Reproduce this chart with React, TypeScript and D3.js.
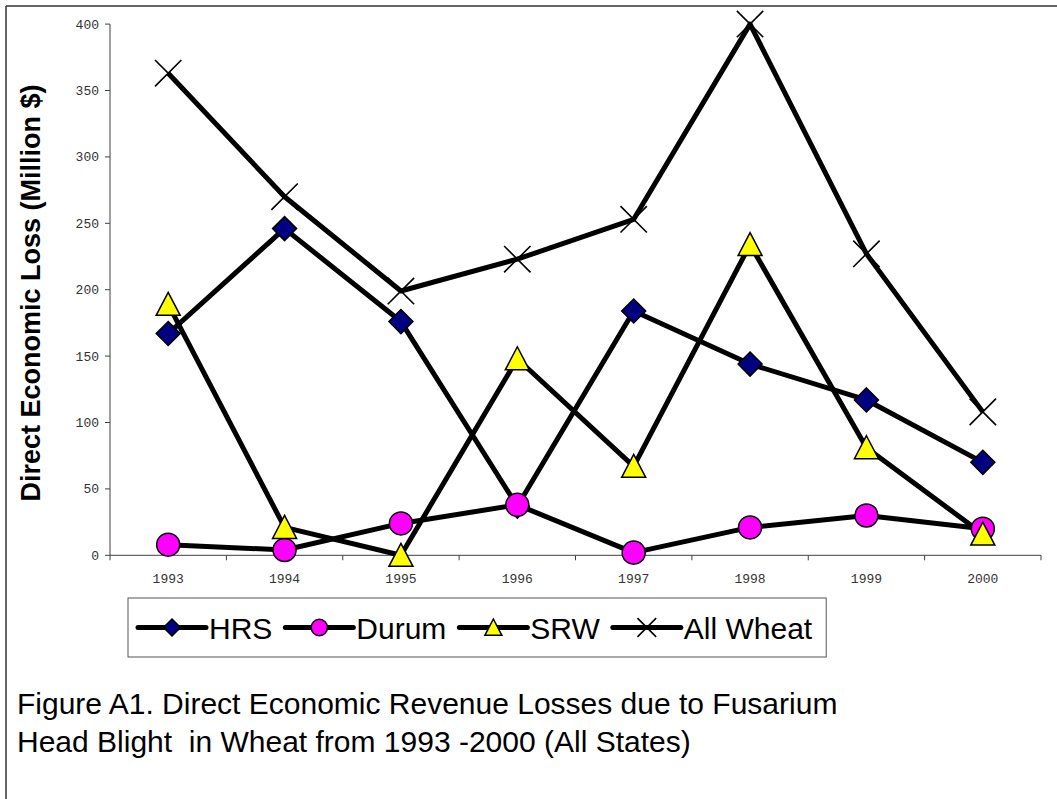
import { useLayoutEffect, useRef, useState } from "react";
import { line as d3Line, scaleBand, scaleLinear } from "d3";

const years = ["1993", "1994", "1995", "1996", "1997", "1998", "1999", "2000"];
const hrsValues = [167, 246, 176, 37, 184, 144, 117, 70];
const durumValues = [8, 4, 24, 38, 2, 21, 30, 20];
const srwValues = [189, 21, 0, 148, 67, 234, 81, 16];
const allWheatValues = [363, 270, 199, 223, 253, 400, 227, 108];
const yTickValues = [0, 50, 100, 150, 200, 250, 300, 350, 400];
const seriesNames = ["HRS", "Durum", "SRW", "All Wheat"];

const yTitle = "Direct Economic Loss (Million $)";
const captionLines = [
  "Figure A1. Direct Economic Revenue Losses due to Fusarium",
  "Head Blight  in Wheat from 1993 -2000 (All States)",
];

type MarkerKind = "diamond" | "circle" | "triangle" | "cross";

type Series = {
  name: string;
  values: number[];
  marker: MarkerKind;
  fill: string;
};

const series: Series[] = [
  { name: seriesNames[0], values: hrsValues, marker: "diamond", fill: "#000080" },
  { name: seriesNames[1], values: durumValues, marker: "circle", fill: "#ff00ff" },
  { name: seriesNames[2], values: srwValues, marker: "triangle", fill: "#ffff00" },
  { name: seriesNames[3], values: allWheatValues, marker: "cross", fill: "none" },
];

const WIDTH = 1057;
const HEIGHT = 799;
const PLOT = { left: 110, right: 1041, top: 24.1, bottom: 555.3 };
const SANS = "'Liberation Sans', Arial, sans-serif";
const MONO = "'Liberation Mono', 'Courier New', monospace";
const AXIS_COLOR = "#404040";

const Marker = ({ kind, x, y, s, fill }: { kind: MarkerKind; x: number; y: number; s: number; fill: string }) => {
  if (kind === "diamond") {
    return (
      <path
        d={`M${x},${y - s}L${x + s},${y}L${x},${y + s}L${x - s},${y}Z`}
        fill={fill}
        stroke="#000"
        strokeWidth={1.5}
      />
    );
  }
  if (kind === "circle") {
    return <circle cx={x} cy={y} r={s * 0.96} fill={fill} stroke="#000" strokeWidth={1.5} />;
  }
  if (kind === "triangle") {
    return (
      <path
        d={`M${x},${y - s}L${x + s},${y + s * 0.92}L${x - s},${y + s * 0.92}Z`}
        fill={fill}
        stroke="#000"
        strokeWidth={1.5}
      />
    );
  }
  const c = s * 1.1;
  return (
    <path
      d={`M${x - c},${y - c}L${x + c},${y + c}M${x + c},${y - c}L${x - c},${y + c}`}
      stroke="#000"
      strokeWidth={1.6}
      fill="none"
    />
  );
};

export default function App() {
  const x = scaleBand<string>().domain(years).range([PLOT.left, PLOT.right]).padding(0);
  const y = scaleLinear().domain([0, 400]).range([PLOT.bottom, PLOT.top]);
  const cx = (year: string) => (x(year) ?? 0) + x.bandwidth() / 2;

  const linePath = d3Line<number>()
    .x((_, i) => cx(years[i]))
    .y((v) => y(v));

  // legend text widths, measured after first paint
  const textRefs = useRef<(SVGTextElement | null)[]>([]);
  const [textWidths, setTextWidths] = useState<number[]>([63, 90, 70, 128]);
  useLayoutEffect(() => {
    const next = textRefs.current.map((el, i) => (el ? el.getComputedTextLength() : textWidths[i]));
    if (next.some((w, i) => Math.abs(w - textWidths[i]) > 0.5)) {
      setTextWidths(next);
    }
  }, []);

  const legendTop = 598;
  const legendBottom = 657;
  const legendMid = (legendTop + legendBottom) / 2;
  const legendGap = 13;
  const legendItems: { s: Series; x0: number; tx: number }[] = [];
  let cursor = 138;
  series.forEach((s, i) => {
    legendItems.push({ s, x0: cursor, tx: cursor + 71 });
    cursor = cursor + 71 + textWidths[i] + legendGap;
  });
  const legendRight = cursor - legendGap + 14;

  return (
    <div style={{ position: "absolute", left: 0, top: 0, width: WIDTH, height: HEIGHT, background: "#fff" }}>
      <svg width={WIDTH} height={HEIGHT} style={{ display: "block" }}>
        <rect width={WIDTH} height={HEIGHT} fill="#fff" />
        {/* outer frame: only top and left edges show */}
        <line x1={6} x2={WIDTH} y1={6} y2={6} stroke="#333" strokeWidth={1.5} />
        <line x1={6} x2={6} y1={6} y2={HEIGHT} stroke="#333" strokeWidth={1.5} />

        {/* y axis */}
        <line x1={PLOT.left} x2={PLOT.left} y1={PLOT.top} y2={PLOT.bottom} stroke={AXIS_COLOR} strokeWidth={1} />
        {yTickValues.map((t) => (
          <g key={t}>
            <line x1={PLOT.left - 5} x2={PLOT.left} y1={y(t)} y2={y(t)} stroke={AXIS_COLOR} strokeWidth={1} />
            <text
              x={PLOT.left - 11}
              y={y(t)}
              dy="0.35em"
              textAnchor="end"
              fontFamily={MONO}
              fontSize={13}
              fill="#333"
            >
              {t}
            </text>
          </g>
        ))}

        {/* x axis */}
        <line x1={PLOT.left} x2={PLOT.right} y1={PLOT.bottom} y2={PLOT.bottom} stroke={AXIS_COLOR} strokeWidth={1} />
        {years.map((yr) => (
          <line
            key={`t${yr}`}
            x1={x(yr)}
            x2={x(yr)}
            y1={PLOT.bottom}
            y2={PLOT.bottom + 5}
            stroke={AXIS_COLOR}
            strokeWidth={1}
          />
        ))}
        <line x1={PLOT.right} x2={PLOT.right} y1={PLOT.bottom} y2={PLOT.bottom + 5} stroke={AXIS_COLOR} />
        {years.map((yr) => (
          <text
            key={`l${yr}`}
            x={cx(yr)}
            y={583}
            textAnchor="middle"
            fontFamily={MONO}
            fontSize={13}
            fill="#333"
          >
            {yr}
          </text>
        ))}

        {/* y title */}
        <text
          transform={`translate(40,293) rotate(-90)`}
          textAnchor="middle"
          fontFamily={SANS}
          fontWeight="bold"
          fontSize={27}
          fill="#000"
        >
          {yTitle}
        </text>

        {/* series lines */}
        {series.map((s) => (
          <path
            key={`p${s.name}`}
            d={linePath(s.values) ?? ""}
            fill="none"
            stroke="#000"
            strokeWidth={5}
            strokeLinejoin="round"
          />
        ))}
        {/* markers */}
        {series.map((s) => (
          <g key={`m${s.name}`}>
            {s.values.map((v, i) => (
              <Marker key={i} kind={s.marker} x={cx(years[i])} y={y(v)} s={12} fill={s.fill} />
            ))}
          </g>
        ))}

        {/* legend */}
        <rect
          x={128}
          y={legendTop}
          width={legendRight - 128}
          height={legendBottom - legendTop}
          fill="#fff"
          stroke="#555"
          strokeWidth={1}
        />
        {legendItems.map(({ s, x0, tx }, i) => (
          <g key={`lg${s.name}`}>
            <line x1={x0} x2={x0 + 68} y1={legendMid} y2={legendMid} stroke="#000" strokeWidth={5} strokeLinecap="round" />
            <Marker kind={s.marker} x={x0 + 34} y={legendMid} s={8.5} fill={s.fill} />
            <text
              ref={(el) => {
                textRefs.current[i] = el;
              }}
              x={tx}
              y={legendMid + 11}
              fontFamily={SANS}
              fontSize={30}
              fill="#000"
            >
              {s.name}
            </text>
          </g>
        ))}

        {/* caption */}
        {captionLines.map((ln, i) => (
          <text key={i} x={17} y={714 + i * 38} fontFamily={SANS} fontSize={30} fill="#000" style={{ whiteSpace: "pre" }}>
            {ln}
          </text>
        ))}
      </svg>
    </div>
  );
}
